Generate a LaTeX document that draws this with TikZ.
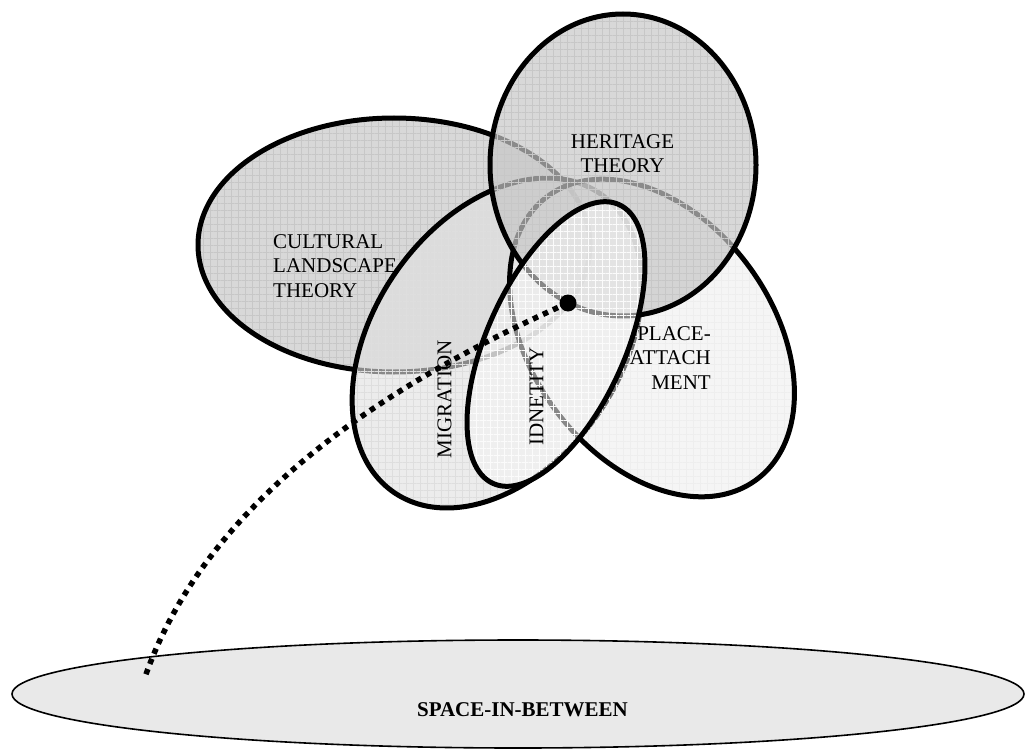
\documentclass[tikz,border=0pt]{standalone}
\usepackage{fontspec}
\setmainfont{Liberation Serif}
\usetikzlibrary{shapes.geometric,patterns.meta}
\definecolor{fillCL}{gray}{0.78}
\definecolor{fillMI}{gray}{0.88}
\definecolor{fillPA}{gray}{0.92}
\definecolor{fillHE}{gray}{0.78}
\definecolor{fillID}{gray}{0.95}
\definecolor{fillSP}{gray}{0.915}
\definecolor{gridCL}{gray}{0.78}
\definecolor{gridMI}{gray}{0.87}
\definecolor{gridPA}{gray}{0.935}
\definecolor{gridHE}{gray}{0.78}
\definecolor{gridID}{gray}{0.985}
\tikzset{
  lens/.style n args={3}{shape=ellipse, inner sep=0pt, outer sep=0pt,
    draw=black, line width=5pt,
    preaction={fill=#1, fill opacity=#2},
    preaction={pattern={Hatch[angle=0,distance=7pt,line width=0.7pt]},
               pattern color=#3}},
  lbl/.style={inner sep=0pt, font=\fontsize{21}{24.5}\selectfont},
  dotline/.style={line width=5.5pt, dash pattern=on 5.5pt off 5.5pt},
}
\begin{document}
\begin{tikzpicture}[x=1pt,y=-1pt]
\useasboundingbox (0,0) rectangle (1025,749);

% bottom ellipse
\node[shape=ellipse, inner sep=0pt, draw=black, line width=1.6pt, fill=fillSP,
      minimum width=1012pt, minimum height=108pt] (space) at (518,694) {};
\node[lbl, font=\fontsize{21}{24.5}\selectfont\bfseries] (spacelbl) at (522.5,710) {SPACE-IN-BETWEEN};

% cultural landscape
\node[lens={fillCL}{0.7}{gridCL}, minimum width=392pt, minimum height=254pt] (cult) at (394,245) {};
\node[lbl, anchor=north west, align=left] (cultlbl) at (273,234.2) {CULTURAL\\LANDSCAPE\\THEORY};

% migration
\node[lens={fillMI}{0.615}{gridMI}, minimum width=363pt, minimum height=247pt, rotate=55.3] (migr) at (497,343) {};
\node[lbl, rotate=90] (migrlbl) at (444.5,399.5) {MIGRATION};

% place attachment
\node[lens={fillPA}{0.5}{gridPA}, minimum width=352pt, minimum height=241pt, rotate=-53.7] (place) at (652,338) {};
\node[lbl, anchor=north east, align=right] (placelbl) at (711,326.2) {PLACE-\\ATTACH\\MENT};

% heritage
\node[lens={fillHE}{0.7}{gridHE}, minimum width=266pt, minimum height=302pt] (herit) at (623,165) {};
\node[lbl, anchor=north, align=center] (heritlbl) at (622.5,134.2) {HERITAGE\\THEORY};

% identity
\node[lens={fillID}{0.56}{gridID}, minimum width=306pt, minimum height=138pt, rotate=65.7] (ident) at (556,344) {};
\node[lbl, rotate=90] (identlbl) at (536.5,396.5) {IDNETITY};

% dotted connector
\node[circle, fill=black, inner sep=0pt, minimum size=17pt] (dot) at (568,303) {};
\coordinate (tail) at (145,677);
\draw[dotline] (dot.center) .. controls (350,400) and (200,520) .. (tail);
\end{tikzpicture}
\end{document}
